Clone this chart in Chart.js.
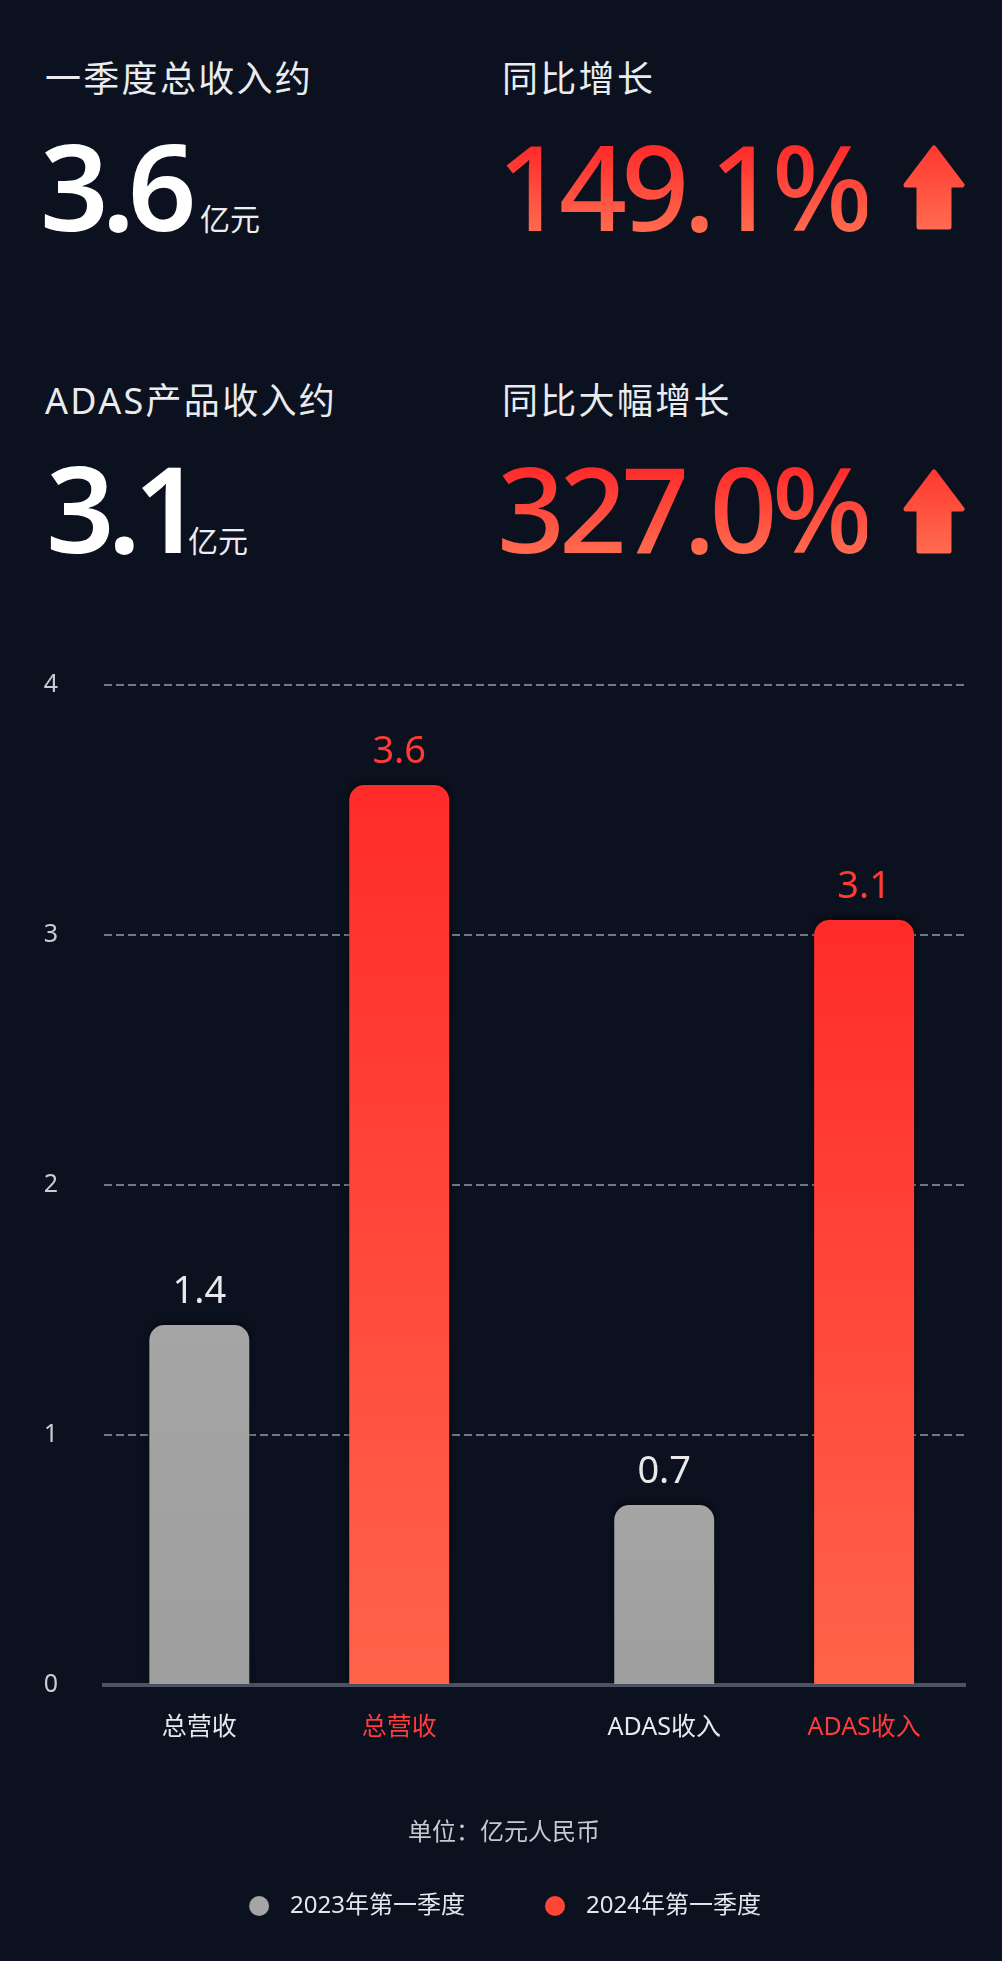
<!DOCTYPE html>
<html lang="zh-CN">
<head>
<meta charset="utf-8">
<title>一季度收入</title>
<script src="https://cdn.jsdelivr.net/npm/chart.js@4.4.1/dist/chart.umd.min.js"></script>
<style>
  html, body {
    margin: 0;
    padding: 0;
    background: #0b111e;
  }
  body {
    position: relative;
    width: 1002px;
    height: 1961px;
    overflow: hidden;
    font-family: "Noto Sans", "Noto Sans CJK SC", sans-serif;
  }
  .kpi-label {
    position: absolute;
    font-size: 36px;
    line-height: 1;
    letter-spacing: 2.3px;
    color: #e9ebef;
    white-space: nowrap;
  }
  .kpi-num {
    position: absolute;
    font-size: 120px;
    line-height: 1;
    font-weight: 600;
    color: #ffffff;
    letter-spacing: -7px;
    white-space: nowrap;
  }
  .kpi-unit {
    position: absolute;
    font-size: 30px;
    line-height: 1;
    color: #eceef2;
    white-space: nowrap;
  }
  .kpi-pct {
    position: absolute;
    font-size: 119px;
    line-height: 1;
    font-weight: 500;
    letter-spacing: -6px;
    white-space: nowrap;
    background: linear-gradient(to bottom, #ff2b2b 18%, #ff6c50 90%);
    -webkit-background-clip: text;
    background-clip: text;
    color: transparent;
  }
  .arrow {
    position: absolute;
    width: 62px;
    height: 86px;
  }
  #chartBox {
    position: absolute;
    left: 0;
    top: 640px;
    width: 1002px;
    height: 1321px;
  }
</style>
</head>
<body>

<div class="kpi-label" style="left:45px; top:61px;">一季度总收入约</div>
<div class="kpi-num" style="left:40px; top:125px;">3.6</div>
<div class="kpi-unit" style="left:200px; top:204px;">亿元</div>

<div class="kpi-label" style="left:502px; top:61px;">同比增长</div>
<div class="kpi-pct" style="left:497px; top:126px;">149.1%</div>
<svg class="arrow" style="left:903px; top:145px;" viewBox="0 0 62 86">
  <defs>
    <linearGradient id="arrowFill1" x1="0" y1="0" x2="0" y2="1">
      <stop offset="0" stop-color="#ff3a30"/>
      <stop offset="1" stop-color="#ff6a50"/>
    </linearGradient>
  </defs>
  <path d="M31 3 L59 40 L46 40 L46 82 L16 82 L16 40 L3 40 Z" fill="url(#arrowFill1)" stroke="url(#arrowFill1)" stroke-width="5" stroke-linejoin="round"/>
</svg>

<div class="kpi-label" style="left:45px; top:383px;">ADAS产品收入约</div>
<div class="kpi-num" style="left:46px; top:447px;">3.1</div>
<div class="kpi-unit" style="left:188px; top:526px;">亿元</div>

<div class="kpi-label" style="left:502px; top:383px;">同比大幅增长</div>
<div class="kpi-pct" style="left:497px; top:448px;">327.0%</div>
<svg class="arrow" style="left:903px; top:469px;" viewBox="0 0 62 86">
  <defs>
    <linearGradient id="arrowFill2" x1="0" y1="0" x2="0" y2="1">
      <stop offset="0" stop-color="#ff3a30"/>
      <stop offset="1" stop-color="#ff6a50"/>
    </linearGradient>
  </defs>
  <path d="M31 3 L59 40 L46 40 L46 82 L16 82 L16 40 L3 40 Z" fill="url(#arrowFill2)" stroke="url(#arrowFill2)" stroke-width="5" stroke-linejoin="round"/>
</svg>

<div id="chartBox"><canvas id="revenueChart"></canvas></div>

<script>
// chart data
const categories = ['总营收', 'ADAS收入'];
const seriesLabels = ['2023年第一季度', '2024年第一季度'];
const q1_2023 = [1.44, 0.72];
const q1_2024 = [3.6, 3.06];
const yTickMin = 0;
const yTickMax = 4;
const yTickStep = 1;
const unitText = '单位：亿元人民币';

const FONT = '"Noto Sans", "Noto Sans CJK SC", sans-serif';
Chart.defaults.font.family = FONT;

// colours per series: 2023 grey, 2024 red
const legendColors = ['#a5a5a5', '#ff4636'];
const valueColors = ['#e9e9e9', '#ff3b33'];
const nameColors = ['#e6e8ec', '#ff3b3b'];

function barFill(top, bottom) {
  return function (ctx) {
    const chart = ctx.chart;
    if (!chart.chartArea || ctx.type !== 'data') return top;
    const y = chart.scales.y;
    const g = chart.ctx.createLinearGradient(0, y.getPixelForValue(ctx.parsed.y), 0, y.getPixelForValue(0));
    g.addColorStop(0, top);
    g.addColorStop(1, bottom);
    return g;
  };
}

// legend dot with some room before the text
function legendDot(color) {
  const c = document.createElement('canvas');
  c.width = 37;
  c.height = 20;
  const g = c.getContext('2d');
  g.fillStyle = color;
  g.beginPath();
  g.arc(18, 10, 10, 0, Math.PI * 2);
  g.fill();
  return c;
}

// value labels above the bars, category names under them, unit line
const barText = {
  id: 'barText',
  beforeDatasetsDraw(chart) {
    const ctx = chart.ctx;
    ctx.save();
    ctx.shadowColor = 'rgba(0, 0, 0, 0.55)';
    ctx.shadowBlur = 6;
    ctx.shadowOffsetY = -2;
  },
  afterDatasetsDraw(chart) {
    const ctx = chart.ctx;
    ctx.restore();
    const area = chart.chartArea;
    ctx.save();
    ctx.textAlign = 'center';
    chart.data.datasets.forEach(function (ds, di) {
      chart.getDatasetMeta(di).data.forEach(function (bar, i) {
        ctx.font = '38px ' + FONT;
        ctx.fillStyle = valueColors[di];
        ctx.textBaseline = 'alphabetic';
        ctx.fillText(ds.data[i].y.toFixed(1), bar.x, bar.y - 22);

        ctx.font = '25px ' + FONT;
        ctx.fillStyle = nameColors[di];
        ctx.textBaseline = 'middle';
        ctx.fillText(categories[i], bar.x, area.bottom + 43);
      });
    });
    ctx.font = '24px ' + FONT;
    ctx.fillStyle = '#c6c9cf';
    ctx.textBaseline = 'middle';
    ctx.fillText(unitText, chart.width / 2 + 3, area.bottom + 148);
    ctx.restore();
  }
};

const ctx = document.getElementById('revenueChart').getContext('2d');

new Chart(ctx, {
  type: 'bar',
  data: {
    datasets: [{
      label: seriesLabels[0],
      data: categories.map(function (c, i) { return { x: i, y: q1_2023[i] }; }),
      backgroundColor: barFill('#a5a5a5', '#9e9e9e')
    }, {
      label: seriesLabels[1],
      data: categories.map(function (c, i) { return { x: i, y: q1_2024[i] }; }),
      backgroundColor: barFill('#ff2b2b', '#ff6449')
    }]
  },
  plugins: [barText],
  options: {
    responsive: true,
    maintainAspectRatio: false,
    animation: false,
    categoryPercentage: 0.86,
    barPercentage: 0.5,
    borderRadius: { topLeft: 15, topRight: 15, bottomLeft: 0, bottomRight: 0 },
    borderSkipped: 'bottom',
    layout: {
      padding: { top: 45, right: 0, bottom: 33, left: 0 }
    },
    scales: {
      x: {
        type: 'linear',
        offset: false,
        // groups are not centred in the plot: "总营收" sits left, "ADAS收入" right
        min: -0.42,
        max: 1.432,
        afterBuildTicks: function (s) {
          s.ticks = categories.map(function (c, i) { return { value: i }; });
        },
        afterFit: function (s) { s.height = 137; },
        grid: { display: false, drawTicks: false },
        ticks: { display: false },
        border: { display: true, color: '#4c5363', width: 4 }
      },
      y: {
        min: yTickMin,
        max: yTickMax,
        afterFit: function (s) {
          s.width = 104;
          // the wide label gap is horizontal only
          s.paddingTop = 0;
          s.paddingBottom = 0;
        },
        ticks: {
          stepSize: yTickStep,
          color: '#c8cdd5',
          font: { size: 25 },
          padding: 46
        },
        grid: { color: '#737884', lineWidth: 2, drawTicks: false },
        border: { display: false, dash: [8, 4] }
      },
      yRight: {
        type: 'linear',
        position: 'right',
        afterFit: function (s) {
          s.width = 37;
          s.paddingTop = 0;
          s.paddingBottom = 0;
        },
        grid: { display: false, drawTicks: false },
        ticks: { display: false },
        border: { display: false }
      }
    },
    plugins: {
      tooltip: { enabled: false },
      legend: {
        position: 'bottom',
        labels: {
          usePointStyle: true,
          pointStyleWidth: 37,
          boxHeight: 20,
          padding: 72,
          color: '#e3e6ea',
          font: { size: 24 },
          generateLabels: function (chart) {
            return chart.data.datasets.map(function (ds, i) {
              return {
                text: ds.label,
                fillStyle: legendColors[i],
                strokeStyle: legendColors[i],
                lineWidth: 0,
                pointStyle: legendDot(legendColors[i]),
                fontColor: '#e3e6ea',
                datasetIndex: i
              };
            });
          }
        }
      }
    }
  }
});
</script>
</body>
</html>
